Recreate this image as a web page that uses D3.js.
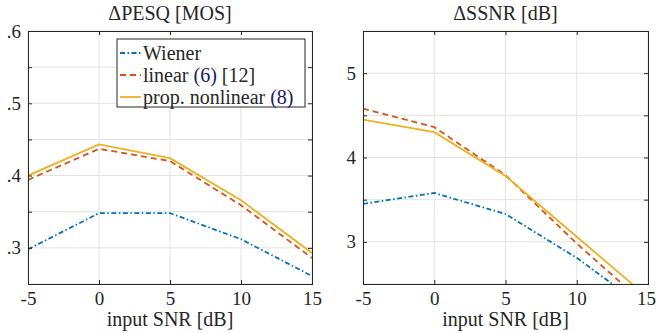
<!DOCTYPE html>
<html>
<head>
<meta charset="utf-8">
<script src="https://cdn.jsdelivr.net/npm/d3@7"></script>
<style>
  body { margin: 0; background: #fff; }
  svg text { font-family: 'Liberation Serif', 'Times New Roman', serif; fill: #262626; }
</style>
</head>
<body>
<svg id="chart" width="656" height="333"></svg>
<script>
// input SNR values (x axis)
const snr = [-5, 0, 5, 10, 15];
const xTicks = [-5, 0, 5, 10, 15];

// delta PESQ [MOS]
const pesqWiener = [0.298, 0.348, 0.348, 0.312, 0.261];
const pesqLinear = [0.394, 0.437, 0.420, 0.359, 0.286];
const pesqProp = [0.400, 0.443, 0.424, 0.366, 0.293];
const pesqGrid = [0.25, 0.3, 0.35, 0.4, 0.45, 0.5, 0.55, 0.6];
const pesqLabels = [0.3, 0.4, 0.5, 0.6];

// delta SSNR [dB]
const ssnrWiener = [3.45, 3.58, 3.33, 2.81, 2.19];
const ssnrLinear = [4.58, 4.36, 3.79, 2.98, 2.23];
const ssnrProp = [4.45, 4.30, 3.78, 3.06, 2.34];
const ssnrGrid = [2.5, 3, 3.5, 4, 4.5, 5, 5.5];
const ssnrLabels = [3, 4, 5];

const seriesNames = ['Wiener', 'linear', 'prop. nonlinear'];
const colors = ['#0072BD', '#D95319', '#EDB120'];
const dashes = ['5,2.5,1.5,2.5', '6,4', null];

const svg = d3.select('#chart');
const plotTop = 31, plotBottom = 284;

function drawPanel(opts) {
  const x = d3.scaleLinear().domain([-5, 15]).range([opts.left, opts.right]);
  const y = d3.scaleLinear().domain(opts.domain).range([plotBottom, plotTop]);
  const g = svg.append('g');

  const clipId = 'clip' + opts.id;
  svg.append('clipPath').attr('id', clipId)
    .append('rect')
    .attr('x', opts.left).attr('y', plotTop)
    .attr('width', opts.right - opts.left).attr('height', plotBottom - plotTop);

  // grid
  g.selectAll('.gx').data(xTicks).enter().append('line')
    .attr('x1', d => x(d)).attr('x2', d => x(d))
    .attr('y1', plotTop).attr('y2', plotBottom)
    .attr('stroke', '#e3e3e3').attr('stroke-width', 1);
  g.selectAll('.gy').data(opts.grid).enter().append('line')
    .attr('x1', opts.left).attr('x2', opts.right)
    .attr('y1', d => y(d)).attr('y2', d => y(d))
    .attr('stroke', '#e3e3e3').attr('stroke-width', 1);

  // lines
  const line = d3.line().x((d, i) => x(snr[i])).y(d => y(d));
  opts.series.forEach((s, k) => {
    g.append('path')
      .datum(s)
      .attr('d', line)
      .attr('fill', 'none')
      .attr('clip-path', `url(#${clipId})`)
      .attr('stroke', colors[k])
      .attr('stroke-width', 1.8)
      .attr('stroke-dasharray', dashes[k]);
  });

  // box with inward ticks
  const axB = d3.axisBottom(x).tickValues(xTicks).tickSize(-4).tickPadding(8).tickFormat(d => String(d));
  const axT = d3.axisTop(x).tickValues(xTicks).tickSize(-4).tickFormat('');
  const axL = d3.axisLeft(y).tickValues(opts.grid).tickSize(-4).tickPadding(7)
    .tickFormat(d => opts.labels.some(v => Math.abs(v - d) < 1e-9) ? opts.fmt(d) : '');
  const axR = d3.axisRight(y).tickValues(opts.grid).tickSize(-4).tickFormat('');

  [[axB, `translate(0,${plotBottom})`], [axT, `translate(0,${plotTop})`],
   [axL, `translate(${opts.left},0)`], [axR, `translate(${opts.right},0)`]].forEach(([ax, tr]) => {
    const a = g.append('g').attr('transform', tr).call(ax);
    a.attr('font-family', null);
    a.select('.domain').attr('stroke', '#262626').attr('stroke-width', 1);
    a.selectAll('.tick line').attr('stroke', '#262626');
    a.selectAll('.tick text').style('font-size', '19px').attr('fill', '#262626');
  });

  // keep the last x label inside the window
  if (opts.right > 640) {
    g.selectAll('.tick text').filter(function () { return this.textContent === '15'; })
      .attr('dx', -2);
  }

  const cx = (opts.left + opts.right) / 2;
  g.append('text').attr('x', cx).attr('y', 20)
    .attr('text-anchor', 'middle').style('font-size', '20px')
    .text(opts.title);
  g.append('text').attr('x', cx).attr('y', 326)
    .attr('text-anchor', 'middle').style('font-size', '20px')
    .text('input SNR [dB]');
}

drawPanel({
  id: 'pesq', left: 28, right: 312, domain: [0.25, 0.6],
  grid: pesqGrid, labels: pesqLabels,
  fmt: d => d3.format('.1f')(d).replace(/^0/, ''),
  series: [pesqWiener, pesqLinear, pesqProp],
  title: '\u0394PESQ [MOS]'
});

drawPanel({
  id: 'ssnr', left: 363, right: 648, domain: [2.5, 5.5],
  grid: ssnrGrid, labels: ssnrLabels,
  fmt: d => String(d),
  series: [ssnrWiener, ssnrLinear, ssnrProp],
  title: '\u0394SSNR [dB]'
});

// legend
const legend = svg.append('g').attr('transform', 'translate(117,39)');
legend.append('rect')
  .attr('width', 188).attr('height', 68)
  .attr('fill', '#fff').attr('stroke', '#262626').attr('stroke-width', 1);

const labelParts = [
  [['Wiener', null]],
  [['linear ', null], ['(6)', '#1a1a66'], [' [12]', null]],
  [['prop. nonlinear ', null], ['(8)', '#1a1a66']]
];

const rows = legend.selectAll('.row').data(seriesNames).enter().append('g')
  .attr('transform', (d, i) => `translate(0,${14 + i * 22})`);
rows.append('line')
  .attr('x1', 3).attr('x2', 24).attr('y1', 0).attr('y2', 0)
  .attr('stroke', (d, i) => colors[i])
  .attr('stroke-width', 1.8)
  .attr('stroke-dasharray', (d, i) => dashes[i]);
rows.each(function (d, i) {
  const t = d3.select(this).append('text')
    .attr('x', 26).attr('y', 0).attr('dy', '0.33em')
    .style('font-size', '20px');
  labelParts[i].forEach(p => {
    const ts = t.append('tspan').text(p[0]);
    if (p[1]) ts.style('fill', p[1]);
  });
});
</script>
</body>
</html>
